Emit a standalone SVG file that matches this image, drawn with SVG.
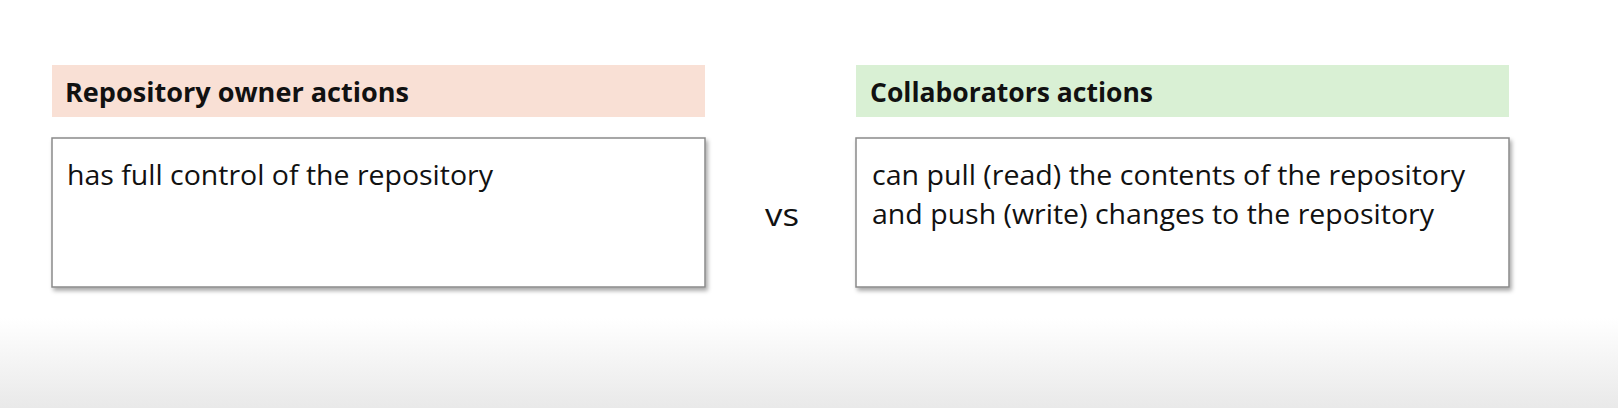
<svg xmlns="http://www.w3.org/2000/svg" width="1618" height="408" viewBox="0 0 1618 408">
<defs>
<linearGradient id="bg" x1="0" y1="0" x2="0" y2="1">
<stop offset="0" stop-color="#ffffff"/>
<stop offset="0.78" stop-color="#ffffff"/>
<stop offset="1" stop-color="#e9e9e9"/>
</linearGradient>
<filter id="sh" x="-5%" y="-10%" width="110%" height="125%">
<feDropShadow dx="2" dy="3" stdDeviation="2" flood-color="#000" flood-opacity="0.35"/>
</filter>
</defs>
<style>
.hd{font-family:"Open Sans","Liberation Sans",sans-serif;font-weight:bold;font-size:26px;fill:#111}
.bd{font-family:"Open Sans","Liberation Sans",sans-serif;font-size:27px;fill:#111}
.vs{font-family:"Open Sans","Liberation Sans",sans-serif;font-size:31px;fill:#111}
.box{fill:#fff;stroke:#8a8a8a;stroke-width:1.5}
</style>
<rect x="0" y="0" width="1618" height="408" fill="url(#bg)"/>
<g id="owner-header">
<rect x="52" y="65" width="653" height="52" fill="#f9e0d5"/>
<text class="hd" x="65" y="102" textLength="344" lengthAdjust="spacingAndGlyphs">Repository owner actions</text>
</g>
<g id="owner-box">
<rect class="box" x="52" y="138" width="653" height="149" filter="url(#sh)"/>
<text class="bd" x="67" y="185" textLength="426" lengthAdjust="spacingAndGlyphs">has full control of the repository</text>
</g>
<g id="vs">
<text class="vs" x="765" y="226" textLength="34" lengthAdjust="spacingAndGlyphs">vs</text>
</g>
<g id="collab-header">
<rect x="856" y="65" width="653" height="52" fill="#d9f0d4"/>
<text class="hd" x="870" y="102" textLength="283" lengthAdjust="spacingAndGlyphs">Collaborators actions</text>
</g>
<g id="collab-box">
<rect class="box" x="856" y="138" width="653" height="149" filter="url(#sh)"/>
<text class="bd" x="872" y="185" textLength="593" lengthAdjust="spacingAndGlyphs">can pull (read) the contents of the repository</text>
<text class="bd" x="872" y="224" textLength="562" lengthAdjust="spacingAndGlyphs">and push (write) changes to the repository</text>
</g>
<g id="connectors"></g>
</svg>
